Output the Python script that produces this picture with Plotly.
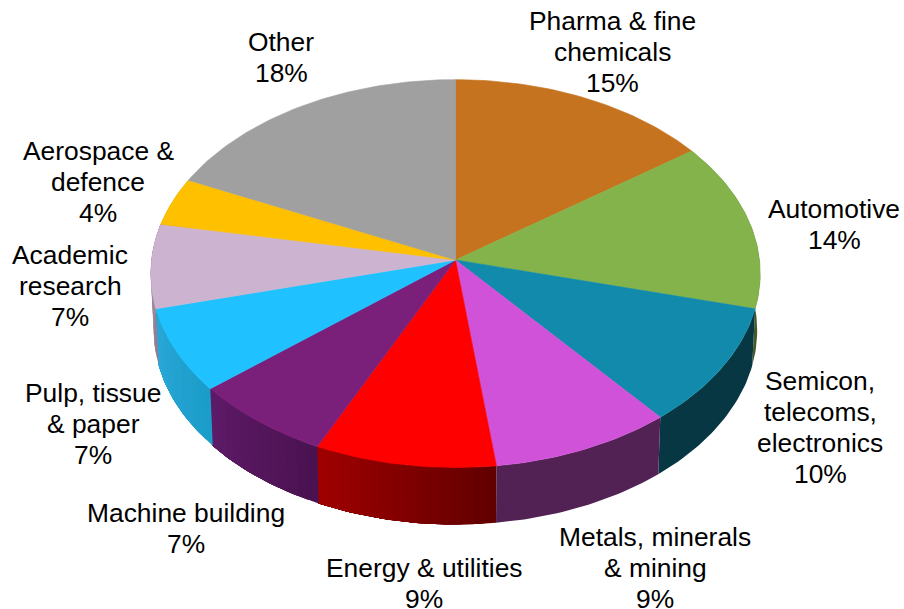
import math
import plotly.graph_objects as go

names = ["Pharma & fine<br>chemicals", "Automotive", "Semicon,<br>telecoms,<br>electronics",
         "Metals, minerals<br>& mining", "Energy & utilities", "Machine building",
         "Pulp, tissue<br>& paper", "Academic<br>research", "Aerospace &<br>defence", "Other"]
values = [15, 14, 10, 9, 9, 7, 7, 7, 4, 18]
top_colors = ["#c5731f", "#85b34b", "#118aab", "#d052d8", "#ff0000",
              "#7a1f7a", "#1fc2ff", "#ccb4d0", "#ffc000", "#a0a0a0"]
wall_start = ["#6b3a10", "#46592a", "#063742", "#522255", "#600000",
              "#4a1250", "#1a9cc8", "#8f7e92", "#8a6a00", "#666666"]
wall_end = ["#6b3a10", "#46592a", "#063742", "#522255", "#a00000",
            "#5e1a68", "#2aa8d8", "#a8949f", "#8a6a00", "#666666"]
label_x = [612, 834, 820, 655, 424, 186, 93, 70, 98, 281]
label_y = [52, 224, 427, 568, 583, 528, 424, 286, 182, 57]

CX, CY, RX, RY, K, DEPTH, BOTTOM_SCALE = 455.5, 260, 304, 193, 0.07, 57, 0.99
LINE_GAP = 31


def top_pt(theta):
    s, c = math.sin(theta), math.cos(theta)
    d = 1 + K * c
    return CX + RX * s / d, CY - RY * c / d


def bottom_pt(theta):
    s, c = math.sin(theta), math.cos(theta)
    d = 1 + K * c
    return CX + BOTTOM_SCALE * RX * s / d, CY + DEPTH - RY * c / d


def mix(a, b, t):
    ca = [int(a[i:i + 2], 16) for i in (1, 3, 5)]
    cb = [int(b[i:i + 2], 16) for i in (1, 3, 5)]
    return "rgb(%d,%d,%d)" % tuple(round(x + (y - x) * t) for x, y in zip(ca, cb))


def poly(xs, ys, color, width=0.6):
    return go.Scatter(x=xs, y=ys, mode="lines", fill="toself", fillcolor=color,
                      line=dict(color=color, width=width), hoverinfo="skip", showlegend=False)


total = sum(values)
edges = [0.0]
for v in values:
    edges.append(edges[-1] + v / total * 2 * math.pi)

fig = go.Figure()

# side wall: each band runs to the end of its slice, the next band paints over it,
# so no background shows between the bands
STEP = math.radians(2)
for i, v in enumerate(values):
    a0, a1 = edges[i], edges[i + 1]
    if math.cos(a0) > 0.35 and math.cos(a1) > 0.35:
        continue
    flat = wall_start[i] == wall_end[i]
    n = 1 if flat else max(1, int((a1 - a0) / STEP))
    for j in range(n):
        t0 = a0 + (a1 - a0) * j / n
        m = max(2, int((a1 - t0) / math.radians(1)))
        ts = [t0 + (a1 - t0) * q / m for q in range(m + 1)]
        p = [top_pt(t) for t in ts] + [bottom_pt(t) for t in reversed(ts)]
        fig.add_trace(poly([q[0] for q in p], [q[1] for q in p],
                           mix(wall_start[i], wall_end[i], (j + 0.5) / n), width=0))

# top face
for i, v in enumerate(values):
    a0, a1 = edges[i], edges[i + 1]
    n = max(4, int((a1 - a0) / math.radians(1)))
    arc = [top_pt(a0 + (a1 - a0) * j / n) for j in range(n + 1)]
    fig.add_trace(poly([CX] + [q[0] for q in arc] + [CX],
                       [CY] + [q[1] for q in arc] + [CY], top_colors[i]))

for name, v, x, y in zip(names, values, label_x, label_y):
    lines = name.split("<br>") + [f"{v}%"]
    for k, line in enumerate(lines):
        fig.add_annotation(x=x, y=y + (k - (len(lines) - 1) / 2) * LINE_GAP, xref="x", yref="y",
                           text=line, showarrow=False, xanchor="center", yanchor="middle",
                           font=dict(family="Liberation Sans, Arial, sans-serif", size=26.4, color="#000000"))

fig.update_layout(width=904, height=609, margin=dict(l=0, r=0, t=0, b=0), autosize=False,
                  paper_bgcolor="white", plot_bgcolor="white", showlegend=False,
                  xaxis=dict(range=[0, 904], visible=False, fixedrange=True),
                  yaxis=dict(range=[609, 0], visible=False, fixedrange=True))
fig.write_html("out.html", config={"displayModeBar": False},
               post_script="document.body.style.margin='0';document.documentElement.style.overflow='hidden';")
